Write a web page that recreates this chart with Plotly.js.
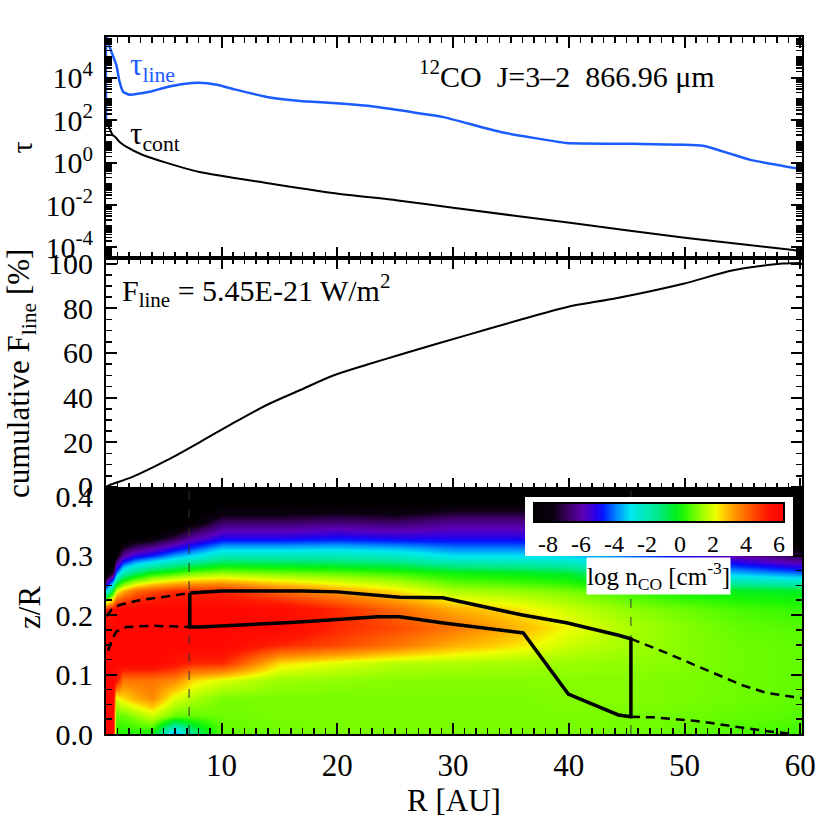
<!DOCTYPE html>
<html>
<head>
<meta charset="utf-8">
<script src="https://cdn.plot.ly/plotly-3.0.1.min.js"></script>
<style>html,body{margin:0;padding:0;background:#fff;}</style>
</head>
<body>
<div id="chart" style="width:819px;height:819px;"></div>
<script>
// ---------- Top panel: optical depths ----------
const tauContR = [0.1, 0.6, 0.8, 1.2, 1.8, 3.2, 5.2, 8.1, 13.9, 19.6, 25.4, 30, 40.1, 50.2, 59.4, 60];
const tauCont  = [79, 20, 16.6, 9.5, 5.5, 2.3, 1.0, 0.36, 0.11, 0.037, 0.016, 0.0074, 0.00145, 0.00028, 0.000076, 0.000068];

const tauLineR = [0.03, 0.05, 0.25, 0.49, 0.69, 0.92, 1.2, 1.5, 2.07, 3.8, 5.3, 6.7, 8.1, 9.6, 11, 13.9, 16.8, 19.6, 22.6, 26.3, 29.1, 34.1, 39.8, 45.5, 51.6, 55.7, 60];
const tauLine  = [80, 9e5, 4e5, 1.7e5, 8.7e4, 4e4, 6.3e3, 2.2e3, 1.6e3, 2.2e3, 3.7e3, 5.2e3, 5.9e3, 4.7e3, 3.0e3, 1.26e3, 810, 660, 480, 250, 145, 28, 8.5, 7.8, 6.3, 1.35, 0.51];
const tauTickVals = [1e-4, 1e-2, 1, 1e2, 1e4];
const tauTickText = ['10<sup>-4</sup>', '10<sup>-2</sup>', '10<sup>0</sup>', '10<sup>2</sup>', '10<sup>4</sup>'];

// ---------- Middle panel: cumulative line flux [%] ----------
const cumFR = [0, 0.35, 2.3, 5.3, 8.1, 11, 13.9, 16.8, 19.6, 22.6, 25.4, 31.2, 35.5, 39.8, 44.2, 49.9, 54.2, 58.5, 60];
const cumF  = [0, 0.9, 4.5, 12, 20, 28.6, 36.7, 43.4, 49.8, 54.8, 59.2, 68, 74.4, 80.5, 84.6, 91, 97, 100, 100.3];

// ---------- Bottom panel: log n_CO map ----------
const gridR  = [0, 0.6, 0.9, 1.5, 2.5, 4, 6, 7.5, 10, 15, 20, 25, 30, 35, 40, 45, 50, 55, 60];
const gridZR = [0, 0.03, 0.06, 0.09, 0.12, 0.15, 0.18, 0.21, 0.24, 0.27, 0.30, 0.33, 0.36, 0.39, 0.42];
// one vertical profile (over gridZR) per radius in gridR
const logNcoProfiles = [
  [6, 6, 6, 6, 6, 6, 6, 5, -3, -9, -10, -10, -10, -10, -10],          // R=0
  [6, 6, 6, 6, 6, 6, 6, 5.5, 0, -7, -10, -10, -10, -10, -10],         // R=0.6
  [0.3, 0.8, 2, 5.5, 6, 6, 6, 6, 2, -4, -8, -10, -10, -10, -10],      // R=0.9
  [0.2, 0.8, 2.5, 3.8, 6, 6, 6, 6, 3, -2, -6, -9, -10, -10, -10],     // R=1.5
  [0.2, 1.2, 3, 3.8, 6, 6, 6, 6, 4, -1, -5, -8.5, -10, -10, -10],     // R=2.5
  [0, 1.8, 3.5, 3.8, 6, 6, 6, 6, 4.5, 0, -4.5, -8, -10, -10, -10],    // R=4
  [-4, 0.8, 2, 3.5, 5.5, 6, 6, 6, 5, 0.5, -3.5, -7, -9.5, -10, -10],  // R=6
  [-1.5, 0.8, 1.5, 2.5, 5, 6, 6, 6, 5, 1, -3, -6, -8.5, -10, -10],    // R=7.5
  [0.8, 0.9, 1, 2, 5, 6, 6, 6, 5, 1.3, -2, -5, -7, -9, -10],          // R=10
  [0.9, 1, 1, 1.3, 2.5, 5, 6, 5.8, 4, 1, -2, -5, -7, -9, -10],        // R=15
  [1, 1, 1, 1.2, 2, 4.5, 5, 5, 3.2, 0.8, -2, -4.8, -6.8, -8.8, -10],  // R=20
  [1, 1, 1, 1.1, 1.6, 3.8, 4.5, 4, 2.5, 0.5, -2.2, -5, -7, -9, -10],  // R=25
  [1, 1, 1, 1.1, 1.5, 3, 3.8, 3, 1.5, 0, -3, -5, -6.5, -8.5, -10],    // R=30
  [1, 1, 1, 1.1, 1.4, 2.5, 3, 2.5, 1.3, -0.2, -3, -5, -6.5, -8.5, -10], // R=35
  [1, 1, 1.1, 1.1, 1.3, 1.8, 2.2, 1.8, 1, -0.5, -3.2, -5.2, -6.5, -8.5, -10], // R=40
  [0.9, 1, 1.1, 1.1, 1.2, 1.4, 1.5, 1.2, 0.5, -2, -4, -6, -7.5, -9, -10], // R=45
  [0.8, 0.9, 1, 1, 1.1, 1.1, 1.1, 0.9, 0, -3, -5, -7, -8.5, -9.5, -10],  // R=50
  [0.6, 0.8, 0.9, 0.9, 0.9, 0.9, 0.8, 0.6, -0.2, -3.5, -6, -8.5, -9.5, -10, -10], // R=55
  [0.5, 0.7, 0.8, 0.8, 0.8, 0.8, 0.7, 0.4, -0.3, -4, -7, -9.5, -10, -10, -10]     // R=60
];
const cbarMin = -8.85, cbarMax = 6.3;
const cbarTicks = [-8, -6, -4, -2, 0, 2, 4, 6];

// emitting region (solid) and its extrapolation (dashed)
const regionR = [7.26, 10, 17, 20, 25.4, 29.1, 36, 39.8, 44.3, 45.37, 45.37, 44.28, 39.96, 36.07, 29, 25.4, 23.5, 16.4, 8.1, 7.26, 7.26];
const regionZ = [0.237, 0.2405, 0.2405, 0.239, 0.230, 0.229, 0.200, 0.187, 0.166, 0.160, 0.029, 0.032, 0.067, 0.170, 0.187, 0.197, 0.197, 0.188, 0.180, 0.180, 0.237];
const dashInUpR = [0.05, 0.5, 1.2, 2.9, 5.2, 7.26];
const dashInUpZ = [0.198, 0.209, 0.217, 0.225, 0.231, 0.237];
const dashInLoR = [0.2, 0.5, 0.9, 1.8, 4, 7.26];
const dashInLoZ = [0.14, 0.158, 0.172, 0.18, 0.182, 0.180];
const dashOutUpR = [45.37, 48.5, 51, 53.1, 55, 57.1, 59.8, 60.2];
const dashOutUpZ = [0.160, 0.136, 0.115, 0.097, 0.082, 0.069, 0.061, 0.060];
const dashOutLoR = [45.37, 47.3, 51, 54.2, 57, 59.4];
const dashOutLoZ = [0.029, 0.028, 0.022, 0.0123, 0.005, 0.0];
const boxEdgeR = [7.2, 45.37];

// ---------- build ----------
const FONT = 'Liberation Serif';
const zMap = gridZR.map((_, i) => gridR.map((_, j) => logNcoProfiles[j][i]));

const vx = [], vy = [];
boxEdgeR.forEach(r => { vx.push(r, r, null); vy.push(0, 0.42, null); });

const colorscale = [
  [0.000, '#000000'], [0.080, '#0c0010'], [0.135, '#3c0064'], [0.200, '#5c00b8'],
  [0.254, '#2000f0'], [0.280, '#0020ff'], [0.333, '#0090ff'], [0.386, '#00e8f0'],
  [0.492, '#00ea90'], [0.564, '#00f020'], [0.600, '#20f800'], [0.663, '#90ff00'],
  [0.729, '#f0ff00'], [0.756, '#ffd000'], [0.808, '#ff9000'], [0.874, '#ff5000'],
  [0.927, '#ff1a00'], [1.000, '#ff0000']
];

const dashStyle = {color: 'black', width: 2.5, dash: '9px,6px'};
const traces = [
  {x: tauContR, y: tauCont, xaxis: 'x', yaxis: 'y', mode: 'lines', line: {color: 'black', width: 2, shape: 'spline', smoothing: 0.6}, showlegend: false},
  {x: tauLineR, y: tauLine, xaxis: 'x', yaxis: 'y', mode: 'lines', line: {color: '#1a5cff', width: 2.5, shape: 'spline', smoothing: 0.4}, showlegend: false},
  {x: cumFR, y: cumF, xaxis: 'x2', yaxis: 'y2', mode: 'lines', line: {color: 'black', width: 2, shape: 'spline', smoothing: 0.8}, showlegend: false},
  {type: 'heatmap', x: gridR, y: gridZR, z: zMap, xaxis: 'x3', yaxis: 'y3', zsmooth: 'best',
   zmin: cbarMin, zmax: cbarMax, colorscale: colorscale, showscale: true,
   colorbar: {orientation: 'h', x: 0.7945, xanchor: 'center', y: 0.340, yanchor: 'top',
     len: 0.382, lenmode: 'fraction', thickness: 19, thicknessmode: 'pixels',
     outlinewidth: 2, outlinecolor: 'black', bgcolor: 'white', xpad: 8, ypad: 6, borderwidth: 0,
     tickmode: 'array', tickvals: cbarTicks, ticktext: cbarTicks.map(String), ticks: '',
     tickfont: {size: 24, family: FONT, color: 'black'}, ticklabelposition: 'outside bottom'}},
  {x: vx, y: vy, xaxis: 'x3', yaxis: 'y3', mode: 'lines', line: {color: '#333333', width: 1, dash: 'dash'}, showlegend: false},
  {x: dashInUpR, y: dashInUpZ, xaxis: 'x3', yaxis: 'y3', mode: 'lines', line: dashStyle, showlegend: false},
  {x: dashInLoR, y: dashInLoZ, xaxis: 'x3', yaxis: 'y3', mode: 'lines', line: dashStyle, showlegend: false},
  {x: dashOutUpR, y: dashOutUpZ, xaxis: 'x3', yaxis: 'y3', mode: 'lines', line: dashStyle, showlegend: false},
  {x: dashOutLoR, y: dashOutLoZ, xaxis: 'x3', yaxis: 'y3', mode: 'lines', line: dashStyle, showlegend: false},
  {x: regionR, y: regionZ, xaxis: 'x3', yaxis: 'y3', mode: 'lines', line: {color: 'black', width: 3.5}, showlegend: false}
];

const xBase = {
  range: [0.02, 60.15], showline: true, linewidth: 2, linecolor: 'black', mirror: 'allticks',
  ticks: 'inside', ticklen: 11, tickwidth: 2, tickcolor: 'black', tickmode: 'linear', tick0: 0, dtick: 10,
  minor: {ticks: 'inside', ticklen: 6, tickwidth: 1.5, tickcolor: 'black', dtick: 1, tick0: 0},
  showgrid: false, zeroline: false, fixedrange: true
};
const yBase = {
  showline: true, linewidth: 2, linecolor: 'black', mirror: 'allticks',
  ticks: 'inside', ticklen: 11, tickwidth: 2, tickcolor: 'black',
  showgrid: false, zeroline: false, fixedrange: true, ticklabelstandoff: 5,
  tickfont: {size: 30, family: FONT, color: 'black'}
};

const layout = {
  width: 819, height: 819,
  margin: {l: 106, r: 17, t: 37, b: 85},
  paper_bgcolor: 'white', plot_bgcolor: 'white',
  font: {family: FONT, color: 'black', size: 28},
  showlegend: false,
  xaxis:  Object.assign({}, xBase, {anchor: 'y', showticklabels: false}),
  xaxis2: Object.assign({}, xBase, {anchor: 'y2', showticklabels: false}),
  xaxis3: Object.assign({}, xBase, {anchor: 'y3', showticklabels: true, ticklabelstandoff: 3,
            tickfont: {size: 31, family: FONT, color: 'black'},
            title: {text: 'R [AU]', font: {size: 31, family: FONT, color: 'black'}, standoff: 4}}),
  yaxis:  Object.assign({}, yBase, {anchor: 'x', domain: [0.6829, 1], type: 'log', range: [-4.5, 5.93],
            tickmode: 'array', tickvals: tauTickVals, ticktext: tauTickText,
            minor: {ticks: 'inside', ticklen: 6, tickwidth: 1.5, tickcolor: 'black', tickmode: 'linear', dtick: 'D1'}}),
  yaxis2: Object.assign({}, yBase, {anchor: 'x2', domain: [0.3515, 0.6829], range: [-0.9, 102.5],
            tickmode: 'linear', tick0: 0, dtick: 20,
            minor: {ticks: 'inside', ticklen: 6, tickwidth: 1.5, tickcolor: 'black', dtick: 5, tick0: 0}}),
  yaxis3: Object.assign({}, yBase, {anchor: 'x3', domain: [0, 0.3515], range: [0, 0.412],
            tickmode: 'linear', tick0: 0, dtick: 0.1, tickformat: '.1f',
            minor: {ticks: 'inside', ticklen: 6, tickwidth: 1.5, tickcolor: 'black', dtick: 0.025, tick0: 0}}),
  annotations: [
    {xref: 'paper', yref: 'paper', x: -0.121, y: 0.841, text: 'τ', textangle: -90, showarrow: false,
     font: {size: 30, family: FONT}, xanchor: 'center', yanchor: 'middle'},
    {xref: 'paper', yref: 'paper', x: -0.122, y: 0.518, text: 'cumulative F<sub>line</sub> [%]', textangle: -90, showarrow: false,
     font: {size: 31, family: FONT}, xanchor: 'center', yanchor: 'middle'},
    {xref: 'paper', yref: 'paper', x: -0.109, y: 0.181, text: 'z/R', textangle: -90, showarrow: false,
     font: {size: 31, family: FONT}, xanchor: 'center', yanchor: 'middle'},
    {xref: 'x', yref: 'y', x: 1.9, y: 4.5, text: 'τ<sub>line</sub>', showarrow: false,
     font: {size: 31, family: FONT, color: '#1a5cff'}, xanchor: 'left', yanchor: 'middle'},
    {xref: 'x', yref: 'y', x: 1.9, y: 1.28, text: 'τ<sub>cont</sub>', showarrow: false,
     font: {size: 31, family: FONT, color: 'black'}, xanchor: 'left', yanchor: 'middle'},
    {xref: 'x', yref: 'y', x: 26.9, y: 4.19, text: '<sup>12</sup>CO\u00a0\u00a0J=3–2\u00a0\u00a0866.96 μm', showarrow: false,
     font: {size: 30, family: FONT, color: 'black'}, xanchor: 'left', yanchor: 'middle'},
    {xref: 'x2', yref: 'y2', x: 1.2, y: 88, text: 'F<sub>line</sub> = 5.45E-21 W/m<sup>2</sup>', showarrow: false,
     font: {size: 30, family: FONT, color: 'black'}, xanchor: 'left', yanchor: 'middle'},
    {xref: 'paper', yref: 'paper', x: 0.7945, y: 0.2265, text: 'log n<sub>CO</sub> [cm<sup>-3</sup>]', showarrow: false,
     font: {size: 25, family: FONT, color: 'black'}, xanchor: 'center', yanchor: 'middle', bgcolor: 'white', borderpad: 0}
  ]
};

Plotly.newPlot('chart', traces, layout, {displayModeBar: false, staticPlot: true});
</script>
</body>
</html>
